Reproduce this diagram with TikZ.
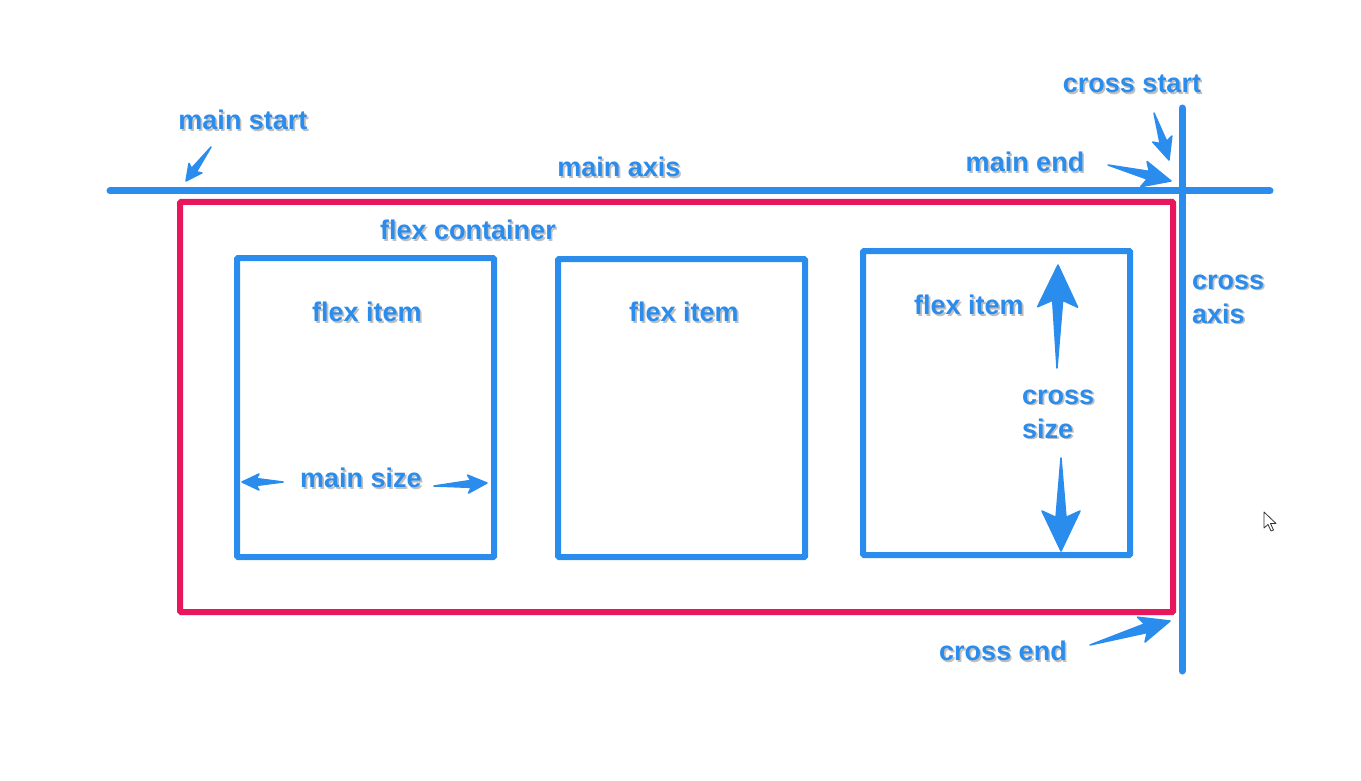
\documentclass[tikz,border=0pt]{standalone}
\usepackage{fontspec}
\setmainfont{Liberation Sans}
\usetikzlibrary{calc}
\definecolor{flexblue}{RGB}{42,140,236}
\definecolor{flexred}{RGB}{232,22,92}
\newcommand\shtext[1]{\makebox[0pt][l]{\hspace{1.6pt}\raisebox{-1.6pt}{\color{black!25}#1}}#1}
\tikzset{
  lbl/.style={text=flexblue, font=\bfseries\fontsize{27}{34}\selectfont, inner sep=0pt},
  axisline/.style={draw=flexblue, line width=7pt, line cap=round},
  itembox/.style={draw=flexblue, line width=6pt, inner sep=0pt, outer sep=0pt, rounded corners=1pt},
  containerbox/.style={draw=flexred, line width=6pt, inner sep=0pt, outer sep=0pt, rounded corners=1pt},
  tapfill/.style={fill=flexblue, draw=flexblue, line width=1.5pt, line join=round}
}
\newcommand\taperarrow[5]{%
  \coordinate (tpH) at ($(#2)!#3!(#1)$);
  \coordinate (tpJ) at ($(#2)!0.84*#3!(#1)$);
  \filldraw[tapfill] (#1) -- ($(tpJ)!#5!90:(#2)$) -- ($(tpH)!#4!90:(#2)$) -- (#2)
    -- ($(tpH)!#4!-90:(#2)$) -- ($(tpJ)!#5!-90:(#2)$) -- cycle;}
\begin{document}
\begin{tikzpicture}[x=1pt,y=-1pt]
\fill[white] (0,0) rectangle (1361,781);
\useasboundingbox (0,0) rectangle (1361,781);

% container and items
\node[containerbox, minimum width=993pt, minimum height=410pt] (container) at (676.5,407) {};
\node[itembox, minimum width=257pt, minimum height=299pt] (item1) at (365.5,407.5) {};
\node[itembox, minimum width=247pt, minimum height=298pt] (item2) at (681.5,408) {};
\node[itembox, minimum width=267pt, minimum height=304pt] (item3) at (996.5,403) {};

% axes
\coordinate (maL) at (110,191);
\coordinate (maR) at (1270,191);
\coordinate (caT) at (1182,108);
\coordinate (caB) at (1182,671);
\draw[axisline] (maL) -- (maR);
\draw[axisline] (caT) -- (caB);

% labels
\node[lbl] (mainstart) at (243,121) {\shtext{main start}};
\node[lbl] (mainaxis) at (619,168) {\shtext{main axis}};
\node[lbl] (crossstart) at (1132,85) {\shtext{cross start}};
\node[lbl] (mainend) at (1025,163) {\shtext{main end}};
\node[lbl] (flexcontainer) at (468,231) {\shtext{flex container}};
\node[lbl, anchor=west, align=left] (crossaxis) at (1192,300) {\shtext{cross}\\\shtext{axis}};
\node[lbl] (fi1) at (367,313) {\shtext{flex item}};
\node[lbl] (fi2) at (684,313) {\shtext{flex item}};
\node[lbl] (fi3) at (969,306) {\shtext{flex item}};
\node[lbl, anchor=west, align=left] (crosssize) at (1022,415) {\shtext{cross}\\\shtext{size}};
\node[lbl] (mainsize) at (361,479) {\shtext{main size}};
\node[lbl] (crossend) at (1003,652) {\shtext{cross end}};

% arrows
\coordinate (msT) at (211,147);  \coordinate (msH) at (186,181);
\coordinate (csT) at (1154,113); \coordinate (csH) at (1169,160);
\coordinate (meT) at (1108,165); \coordinate (meH) at (1171,181);
\coordinate (ceT) at (1090,645); \coordinate (ceH) at (1170,621);
\coordinate (mslT) at (283,482); \coordinate (mslH) at (242,482);
\coordinate (msrT) at (434,486); \coordinate (msrH) at (487,483);
\coordinate (cuT) at (1057,368); \coordinate (cuH) at (1058,265);
\coordinate (cdT) at (1061,458); \coordinate (cdH) at (1061,551);
\taperarrow{msT}{msH}{16pt}{8pt}{3pt}
\taperarrow{csT}{csH}{22pt}{10pt}{3.5pt}
\taperarrow{meT}{meH}{28pt}{13pt}{4pt}
\taperarrow{ceT}{ceH}{30pt}{13pt}{4.5pt}
\taperarrow{mslT}{mslH}{17pt}{8pt}{3.5pt}
\taperarrow{msrT}{msrH}{19pt}{9pt}{3.5pt}
\taperarrow{cuT}{cuH}{42pt}{20pt}{5pt}
\taperarrow{cdT}{cdH}{40pt}{19pt}{5pt}

% mouse cursor
\filldraw[fill=white, draw=black!80, line width=0.8pt, line join=round]
  (1264,512) -- (1264,528) -- (1268,524.5) -- (1271,531) -- (1273.5,530) -- (1270.5,523.5) -- (1276,523.5) -- cycle;
\end{tikzpicture}
\end{document}
